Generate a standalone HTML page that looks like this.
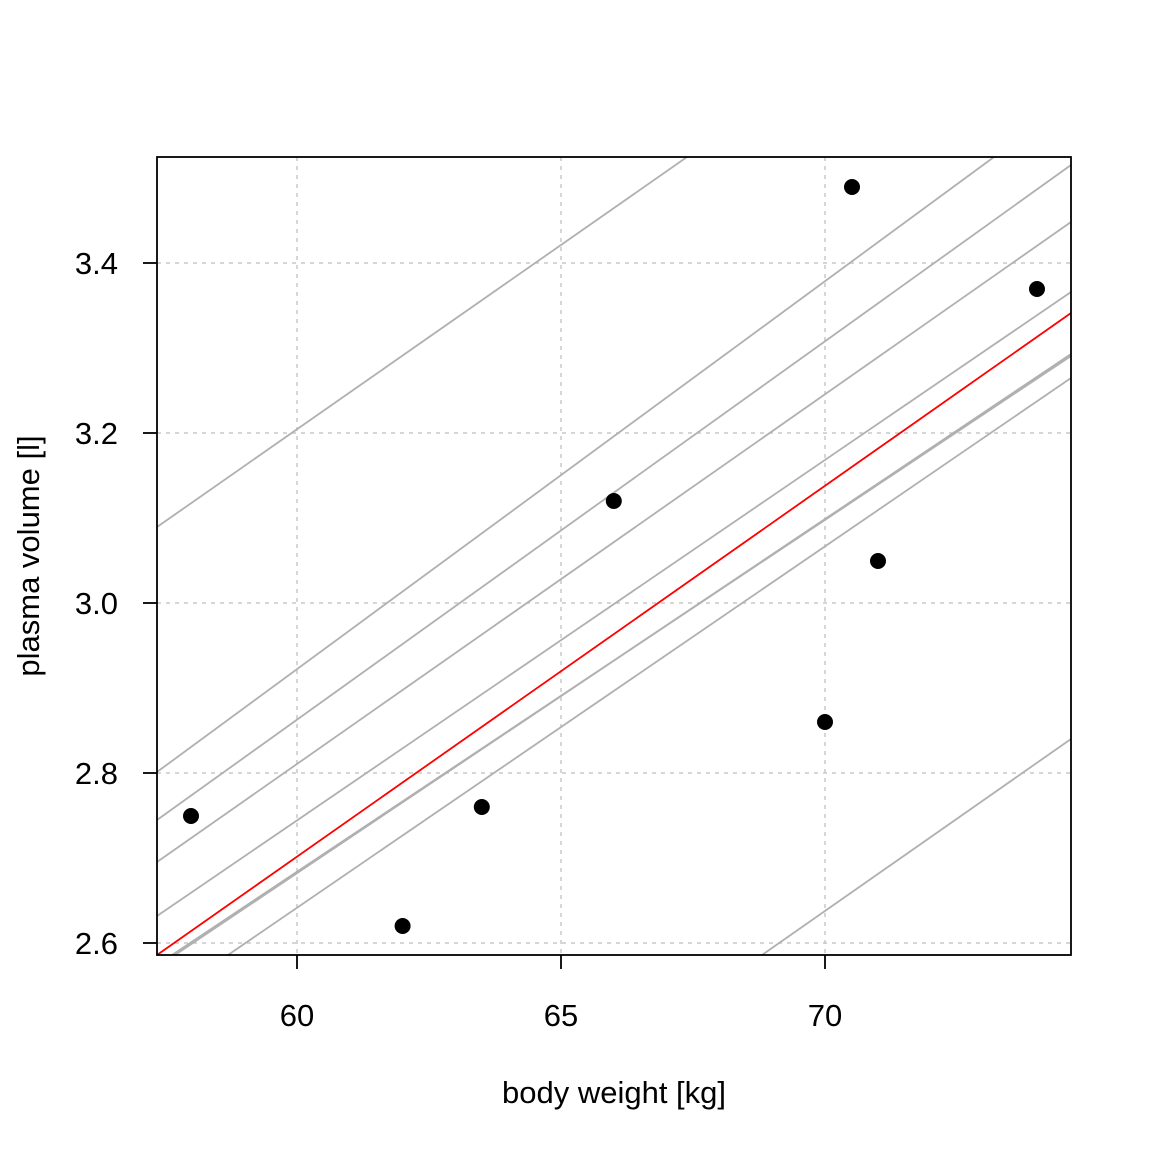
<!DOCTYPE html>
<html><head><style>body{margin:0;background:#fff}</style></head><body>
<svg width="1152" height="1152" xmlns="http://www.w3.org/2000/svg" font-family="Liberation Sans, sans-serif">
<rect width="1152" height="1152" fill="#fff"/>
<g stroke="#c8c8c8" stroke-width="1.5" stroke-dasharray="4,5">
<line x1="297" y1="157" x2="297" y2="955"/><line x1="561" y1="157" x2="561" y2="955"/><line x1="825" y1="157" x2="825" y2="955"/>
<line x1="157" y1="263" x2="1071" y2="263"/><line x1="157" y1="433" x2="1071" y2="433"/><line x1="157" y1="603" x2="1071" y2="603"/><line x1="157" y1="773" x2="1071" y2="773"/><line x1="157" y1="943" x2="1071" y2="943"/>
</g>
<g stroke="#b0b0b0" stroke-width="1.8">
<line x1="157" y1="527" x2="687" y2="157"/>
<line x1="157" y1="772" x2="994" y2="157"/>
<line x1="157" y1="820" x2="1071" y2="165"/>
<line x1="157" y1="862" x2="1071" y2="222"/>
<line x1="157" y1="916" x2="1071" y2="292"/>
<line x1="172" y1="955" x2="1071" y2="356"/>
<line x1="175" y1="955" x2="1071" y2="354"/>
<line x1="228" y1="955" x2="1071" y2="378"/>
<line x1="762" y1="955" x2="1071" y2="739"/>
</g>
<line x1="157" y1="955" x2="1071" y2="313" stroke="#ff0000" stroke-width="1.8"/>
<g fill="#000">
<circle cx="191" cy="816" r="8"/><circle cx="402.6" cy="926" r="8"/><circle cx="481.8" cy="807" r="8"/><circle cx="613.8" cy="501" r="8"/><circle cx="825" cy="722" r="8"/><circle cx="852" cy="187" r="8"/><circle cx="878" cy="561" r="8"/><circle cx="1037" cy="289" r="8"/>
</g>
<rect x="157" y="157" width="914" height="798" fill="none" stroke="#000" stroke-width="1.8"/>
<g stroke="#000" stroke-width="1.8">
<line x1="297" y1="955" x2="297" y2="969"/><line x1="561" y1="955" x2="561" y2="969"/><line x1="825" y1="955" x2="825" y2="969"/>
<line x1="143" y1="263" x2="157" y2="263"/><line x1="143" y1="433" x2="157" y2="433"/><line x1="143" y1="603" x2="157" y2="603"/><line x1="143" y1="773" x2="157" y2="773"/><line x1="143" y1="943" x2="157" y2="943"/>
</g>
<g font-size="31" text-anchor="middle" fill="#000">
<text x="297" y="1026">60</text><text x="561" y="1026">65</text><text x="825" y="1026">70</text>
<text x="614" y="1103">body weight [kg]</text>
<text transform="translate(39,556) rotate(-90)">plasma volume [l]</text>
</g>
<g font-size="31" text-anchor="end" fill="#000">
<text x="118" y="274">3.4</text>
<text x="118" y="444">3.2</text>
<text x="118" y="614">3.0</text>
<text x="118" y="784">2.8</text>
<text x="118" y="954">2.6</text>
</g>
</svg>
</body></html>
